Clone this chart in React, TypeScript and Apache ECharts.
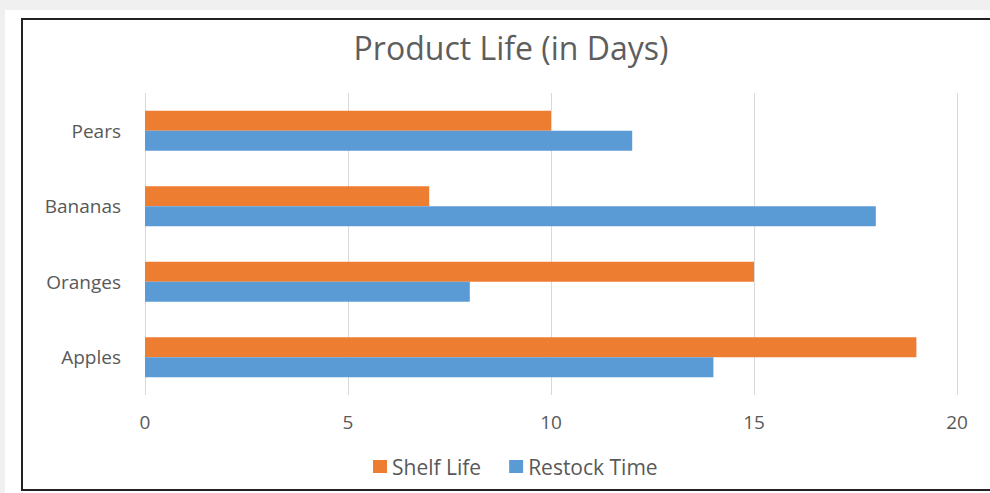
import React, { useEffect, useRef } from "react";
import * as echarts from "echarts";

const categories = ["Apples", "Oranges", "Bananas", "Pears"];
const shelfLife = [19, 15, 7, 10];
const restockTime = [14, 8, 18, 12];
const xTicks = { min: 0, max: 20, interval: 5 };

export default function App() {
  const ref = useRef<HTMLDivElement>(null);
  useEffect(() => {
    if (!ref.current) return;
    const chart = echarts.init(ref.current, null, { renderer: "svg" });
    const font = "'Open Sans', 'Noto Sans', sans-serif";
    chart.setOption({
      animation: false,
      backgroundColor: "#f0f0f0",
      graphic: [
        { type: "rect", shape: { x: 5, y: 10, width: 990, height: 490 }, style: { fill: "#ffffff" }, z: -10 },
        { type: "rect", shape: { x: 22, y: 19, width: 1000, height: 471 }, style: { fill: "#ffffff", stroke: "#222222", lineWidth: 2 }, z: -9 },
      ],
      title: {
        text: "Product Life (in Days)",
        left: 506,
        textAlign: "center",
        top: 26,
        textStyle: { fontFamily: font, fontSize: 32, fontWeight: "normal", color: "#5e5e5e" },
      },
      legend: {
        data: ["Shelf Life", "Restock Time"],
        bottom: 11,
        left: 368,
        itemWidth: 14,
        itemHeight: 13,
        itemGap: 28,
        icon: "rect",
        textStyle: { fontFamily: font, fontSize: 21, color: "#595959" },
      },
      grid: { left: 145, right: 33, top: 93, bottom: 98, containLabel: false },
      xAxis: {
        type: "value",
        min: xTicks.min,
        max: xTicks.max,
        interval: xTicks.interval,
        axisLine: { show: false },
        axisTick: { show: false },
        axisLabel: { fontFamily: font, fontSize: 19, color: "#595959", margin: 17 },
        splitLine: { lineStyle: { color: "#d9d9d9", width: 1 } },
      },
      yAxis: {
        type: "category",
        data: categories,
        axisLine: { show: false },
        axisTick: { show: false },
        axisLabel: { fontFamily: font, fontSize: 19, color: "#595959", margin: 24 },
      },
      series: [
        {
          name: "Shelf Life",
          type: "bar",
          data: shelfLife,
          itemStyle: { color: "#ED7D31" },
          barWidth: 20,
          barGap: "0%",
          barCategoryGap: "47%",
        },
        {
          name: "Restock Time",
          type: "bar",
          data: restockTime,
          itemStyle: { color: "#5B9BD5" },
          barWidth: 20,
          barGap: "0%",
          barCategoryGap: "47%",
        },
      ],
    });
    return () => chart.dispose();
  }, []);
  return (
    <div
      ref={ref}
      style={{ position: "absolute", left: 0, top: 0, width: 990, height: 493 }}
    />
  );
}
